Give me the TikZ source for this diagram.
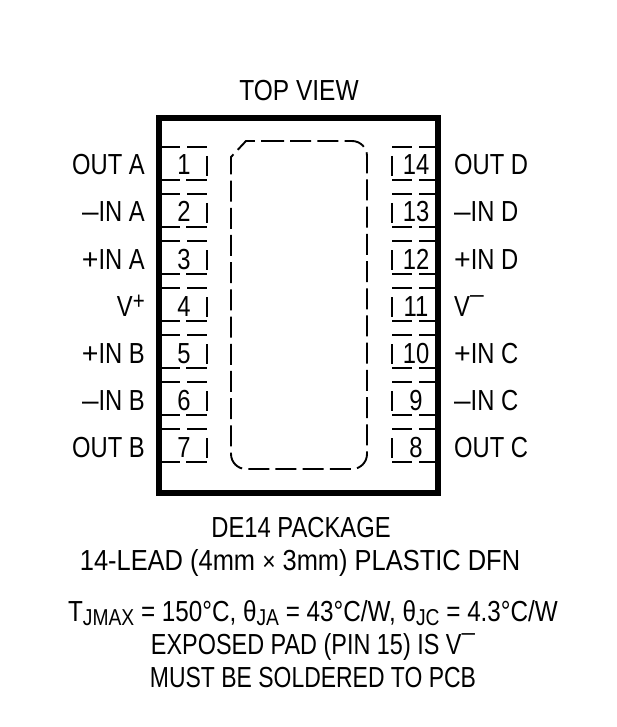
\documentclass[tikz,border=0pt]{standalone}
\usepackage{amsmath,amsfonts,amssymb}
\usepackage{fontspec}
\setmainfont[FakeStretch=0.82]{Liberation Sans}
\newcommand{\vminus}{V\raisebox{.85ex}{\fontsize{24}{24}\selectfont\scalebox{1.25}[1]{–}}}
\newcommand{\vplus}{V\raisebox{.43ex}{\fontsize{25}{25}\selectfont +}}
\newcommand{\lowtxt}[1]{\raisebox{-0.27ex}{\fontsize{23}{23}\selectfont #1}}
\newcommand{\mn}{\scalebox{1.25}[1]{–}}
\newcommand{\pl}{\scalebox{1.2}[1]{+}}
\tikzset{
	lbl/.style={inner sep=0pt,font=\fontsize{29}{29}\selectfont},
	pinl/.style={lbl,anchor=base east},
	pinr/.style={lbl,anchor=base west},
	pinn/.style={lbl,anchor=base},
	txt/.style={lbl,anchor=base},
	pinline/.style={line width=1.9pt}
}
\begin{document}
\begin{tikzpicture}[x=1pt,y=-1pt]
	\useasboundingbox (0,0) rectangle (617,727);
	\draw[line width=6pt] (159,118) rectangle (438,493);
	\draw[pinline,dash pattern=on 21pt off 6.2pt] (263,141) [rounded corners=15pt] --(367,141)--(367,469)--(231,469) [sharp corners] --(231,157)--(246,141)--(263,141);
	\foreach \y in {147,194,241,288,335,382,429}{
		\draw[pinline] (162,\y)--(180,\y) (187,\y)--(207,\y) (207,\y+9)--(207,\y+29) (162,\y+33)--(180,\y+33) (186,\y+33)--(207,\y+33);
		\draw[pinline] (392,\y)--(412,\y) (419,\y)--(435,\y) (392,\y+9)--(392,\y+29) (392,\y+33)--(412,\y+33) (419,\y+33)--(435,\y+33);
	}
	\node[txt] (top) at (299,101) {\scalebox{1.03}[1]{TOP VIEW}};
	\node[pinl] (outa) at (145,175) {OUT A};
	\node[pinl] (mina) at (145,222) {\mn IN A};
	\node[pinl] (pina) at (145,269) {\pl IN A};
	\node[pinl] (vp) at (145,316) {\vplus};
	\node[pinl] (pinb) at (145,363) {\pl IN B};
	\node[pinl] (minb) at (145,410) {\mn IN B};
	\node[pinl] (outb) at (145,457) {OUT B};
	\node[pinr] (outd) at (454,175) {OUT D};
	\node[pinr] (mind) at (454,222) {\mn IN D};
	\node[pinr] (pind) at (454,269) {\pl IN D};
	\node[pinr] (vm) at (454,316) {\vminus};
	\node[pinr] (pinc) at (454,363) {\pl IN C};
	\node[pinr] (minc) at (454,410) {\mn IN C};
	\node[pinr] (outc) at (454,457) {OUT C};
	\node[pinn] (n1) at (184,175) {1};
	\node[pinn] (n2) at (184,222) {2};
	\node[pinn] (n3) at (184,269) {3};
	\node[pinn] (n4) at (184,316) {4};
	\node[pinn] (n5) at (184,363) {5};
	\node[pinn] (n6) at (184,410) {6};
	\node[pinn] (n7) at (184,457) {7};
	\node[pinn] (n14) at (416,175) {14};
	\node[pinn] (n13) at (416,222) {13};
	\node[pinn] (n12) at (416,269) {12};
	\node[pinn] (n11) at (416,316) {11};
	\node[pinn] (n10) at (416,363) {10};
	\node[pinn] (n9) at (416,410) {9};
	\node[pinn] (n8) at (416,457) {8};
	\node[txt] (pkg) at (301,537) {DE14 PACKAGE};
	\node[txt] (lead) at (300,570) {\scalebox{1.07}[1]{14-LEAD (4mm {\fontsize{26}{26}\selectfont ×} 3mm) PLASTIC DFN}};
	\node[txt] (therm) at (313,621) {\scalebox{1.02}[1]{T\lowtxt{JMAX} = 150°C, θ\lowtxt{JA} = 43°C/W, θ\lowtxt{JC} = 4.3°C/W}};
	\node[txt] (pad) at (313,654) {\scalebox{.985}[1]{EXPOSED PAD (PIN 15) IS \vminus}};
	\node[txt] (must) at (313,687) {\scalebox{.965}[1]{MUST BE SOLDERED TO PCB}};
\end{tikzpicture}
\end{document}
